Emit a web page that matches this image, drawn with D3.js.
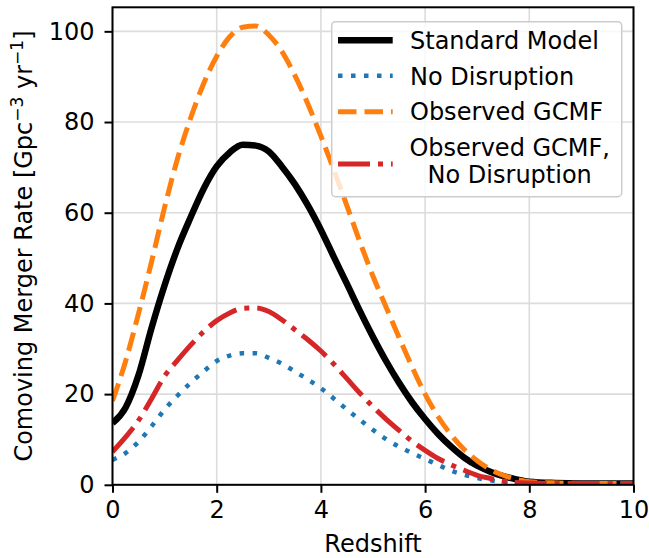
<!DOCTYPE html>
<html>
<head>
<meta charset="utf-8">
<script src="https://cdn.jsdelivr.net/npm/d3@7"></script>
<style>
  body { margin: 0; background: #fff; }
  svg { font-family: "DejaVu Sans", sans-serif; }
</style>
</head>
<body>
<div id="chart-area"></div>
<script>
// Redshift grid
let redshift = [0, 0.25, 0.5, 0.75, 1, 1.25, 1.5, 1.75, 2, 2.25, 2.5, 2.75, 3, 3.25, 3.5, 3.75,
	4, 4.25, 4.5, 4.75, 5, 5.25, 5.5, 5.75, 6, 6.25, 6.5, 6.75, 7, 7.25, 7.5, 7.75, 8, 8.5, 9, 9.5, 10];

// Series values
let standardModel = [13.6, 17.0, 24.2, 34.6, 44.0, 52.2, 59.0, 65.3, 70.2, 73.3, 75.0, 74.8, 73.5, 70.2, 66.3, 61.6,
	56.2, 50.2, 44.3, 38.3, 32.6, 27.3, 22.5, 18.2, 14.5, 11.2, 8.4, 6.0, 4.2, 2.9, 1.9, 1.2, 0.7, 0.4, 0.3, 0.3, 0.3];
let noDisruption = [5.5, 7.0, 9.5, 12.9, 16.6, 19.7, 22.5, 25.0, 27.3, 28.5, 29.0, 29.0, 28.0, 26.7, 25.0, 23.2,
	21.3, 19.0, 16.6, 14.3, 12.1, 10.1, 8.4, 7.0, 5.7, 4.4, 3.1, 2.2, 1.5, 1.0, 0.6, 0.4, 0.3, 0.3, 0.3, 0.3, 0.3];
let observedGCMF = [18.5, 27.2, 37.8, 49.2, 61.2, 72.0, 80.9, 88.5, 94.5, 98.8, 100.9, 101.2, 99.2, 95.6, 90.3, 84.0,
	76.9, 69.4, 61.5, 53.5, 46.0, 39.2, 32.5, 26.0, 20.0, 15.0, 11.0, 7.8, 5.3, 3.4, 2.1, 1.2, 0.7, 0.4, 0.3, 0.3, 0.3];
let observedNoDisruption = [7.3, 10.5, 14.2, 19.0, 24.0, 27.5, 30.8, 33.8, 36.2, 37.9, 38.9, 39.0, 38.2, 36.4, 34.2, 32.0,
	29.5, 26.6, 23.4, 20.2, 17.2, 14.5, 12.0, 9.6, 7.6, 5.8, 4.4, 3.2, 2.1, 1.4, 0.8, 0.5, 0.4, 0.3, 0.3, 0.3, 0.3];

let xTicks = [0, 2, 4, 6, 8, 10];
let yTicks = [0, 20, 40, 60, 80, 100];

let seriesNames = ["Standard Model", "No Disruption", "Observed GCMF", "Observed GCMF,\nNo Disruption"];

// SVG Size
let width = 649,
	height = 558;

let margin = {top: 7.3, right: 15.5, bottom: 73.2, left: 112.5},
	plotW = width - margin.left - margin.right,
	plotH = height - margin.top - margin.bottom;

let fontSize = 24;

let svg = d3.select("#chart-area").append("svg")
	.attr("width", width)
	.attr("height", height);

let g = svg.append("g")
	.attr("transform", "translate(" + margin.left + "," + margin.top + ")");

// Scales
let x = d3.scaleLinear().domain([0, 10]).range([0, plotW]);
let y = d3.scaleLinear().domain([0, 105.3]).range([plotH, 0]);

// Grid
g.append("g").selectAll("line")
	.data(xTicks)
	.enter().append("line")
	.attr("x1", d => x(d)).attr("x2", d => x(d))
	.attr("y1", 0).attr("y2", plotH)
	.attr("stroke", "#dcdcdc")
	.attr("stroke-width", 1.6);

g.append("g").selectAll("line")
	.data(yTicks)
	.enter().append("line")
	.attr("x1", 0).attr("x2", plotW)
	.attr("y1", d => y(d)).attr("y2", d => y(d))
	.attr("stroke", "#dcdcdc")
	.attr("stroke-width", 1.6);

// Clip
g.append("clipPath").attr("id", "clip")
	.append("rect").attr("width", plotW).attr("height", plotH);

let line = d3.line()
	.x(d => x(d[0]))
	.y(d => y(d[1]))
	.curve(d3.curveMonotoneX);

let series = [
	{name: seriesNames[0], values: standardModel, color: "#000000", width: 6.5, dash: null},
	{name: seriesNames[1], values: noDisruption, color: "#1f77b4", width: 4.5, dash: "4.5,8.5"},
	{name: seriesNames[2], values: observedGCMF, color: "#ff7f0e", width: 5, dash: "18.5,8"},
	{name: seriesNames[3], values: observedNoDisruption, color: "#d62728", width: 5, dash: "32,8,5,8"}
];

g.append("g").attr("clip-path", "url(#clip)")
	.selectAll("path")
	.data(series)
	.enter().append("path")
	.attr("d", s => line(redshift.map((z, i) => [z, s.values[i]])))
	.attr("fill", "none")
	.attr("stroke", s => s.color)
	.attr("stroke-width", s => s.width)
	.attr("stroke-dasharray", s => s.dash)
	.attr("stroke-linejoin", "round");

// Axes
let xAxis = d3.axisBottom(x).tickValues(xTicks).tickSize(8).tickPadding(10).tickFormat(d3.format("d"));
let yAxis = d3.axisLeft(y).tickValues(yTicks).tickSize(8).tickPadding(10).tickFormat(d3.format("d"));

let gx = g.append("g")
	.attr("transform", "translate(0," + plotH + ")")
	.call(xAxis);
let gy = g.append("g").call(yAxis);

[gx, gy].forEach(a => {
	a.select(".domain").remove();
	a.selectAll(".tick line").attr("stroke", "#000").attr("stroke-width", 2);
	a.selectAll(".tick text")
		.attr("fill", "#000")
		.style("font-size", fontSize + "px")
		.style("font-family", "DejaVu Sans");
});
gx.selectAll(".tick text").attr("dy", "0.62em");

// Frame
g.append("rect")
	.attr("width", plotW).attr("height", plotH)
	.attr("fill", "none")
	.attr("stroke", "#000")
	.attr("stroke-width", 2);

// Axis labels
svg.append("text")
	.attr("x", margin.left + plotW / 2)
	.attr("y", 552)
	.attr("text-anchor", "middle")
	.style("font-size", fontSize + "px")
	.text("Redshift");

let yLabel = svg.append("text")
	.attr("transform", "translate(31.5," + (margin.top + plotH / 2) + ") rotate(-90)")
	.attr("text-anchor", "middle")
	.style("font-size", fontSize + "px");
yLabel.append("tspan").text("Comoving Merger Rate [Gpc");
yLabel.append("tspan").attr("dy", -9).style("font-size", "17px").text("\u22123");
yLabel.append("tspan").attr("dy", 9).text(" yr");
yLabel.append("tspan").attr("dy", -9).style("font-size", "17px").text("\u22121");
yLabel.append("tspan").attr("dy", 9).text("]");

// Legend
let legend = svg.append("g").attr("transform", "translate(331.7,21.7)");
legend.append("rect")
	.attr("width", 290).attr("height", 175)
	.attr("rx", 4)
	.attr("fill", "rgba(255,255,255,0.8)")
	.attr("stroke", "#cccccc")
	.attr("stroke-width", 1.5);

let handleY = [18.6, 54, 90, 142.3];
let textY = [[27.8], [63.1], [98.8], [134.3, 161.1]];

legend.selectAll(".handle")
	.data(series)
	.enter().append("line")
	.attr("class", "handle")
	.attr("x1", 6.3).attr("x2", 61)
	.attr("y1", (s, i) => handleY[i]).attr("y2", (s, i) => handleY[i])
	.attr("stroke", s => s.color)
	.attr("stroke-width", s => s.width)
	.attr("stroke-dasharray", s => s.dash);

series.forEach((s, i) => {
	let lines = s.name.split("\n");
	let t = legend.append("text")
		.style("font-size", fontSize + "px")
		.attr("text-anchor", lines.length > 1 ? "middle" : "start");
	lines.forEach((l, j) => {
		t.append("tspan")
			.attr("x", lines.length > 1 ? 178 : 78.3)
			.attr("y", textY[i][j])
			.text(l);
	});
});
</script>
</body>
</html>
